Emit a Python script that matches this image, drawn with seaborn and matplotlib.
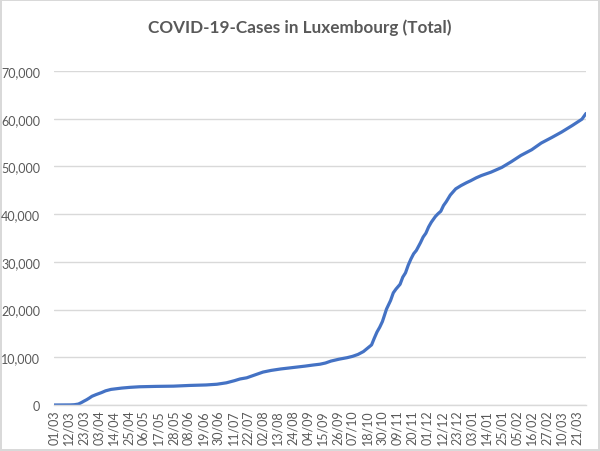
import matplotlib
matplotlib.use("Agg")
import matplotlib.pyplot as plt
import seaborn as sns
import pandas as pd

title = "COVID-19-Cases in Luxembourg (Total)"

# day index since 01/03/2020 (category position) and cumulative cases
day_index = [0, 12, 15, 18, 20, 22, 24, 26, 28, 31, 35, 38, 42, 50, 56, 63, 75, 88,
             100, 112, 120, 127, 133, 137, 142, 148, 154, 160, 167, 173, 179, 185,
             191, 196, 200, 204, 210, 216, 220, 224, 228, 231, 234, 236, 238, 240,
             242, 245, 248, 250, 252, 255, 257, 259, 261, 263, 265, 267, 270, 272,
             274, 276, 278, 281, 283, 285, 287, 289, 292, 296, 300, 304, 307, 311,
             315, 322, 330, 337, 344, 352, 359, 367, 374, 382, 389, 392]
cases = [0, 20, 60, 200, 480, 800, 1100, 1450, 1830, 2180, 2600, 2970, 3270, 3550,
         3700, 3820, 3900, 3950, 4100, 4200, 4350, 4650, 5100, 5450, 5700, 6300,
         6900, 7250, 7550, 7750, 7950, 8150, 8380, 8550, 8800, 9200, 9600, 9920,
         10200, 10600, 11200, 11900, 12600, 14000, 15300, 16300, 17500, 20100,
         21900, 23500, 24300, 25300, 26800, 27700, 29300, 30600, 31700, 32400,
         34000, 35200, 36000, 37300, 38300, 39500, 40100, 40600, 41800, 42600,
         44000, 45300, 46000, 46600, 47000, 47600, 48100, 48800, 49800, 51000,
         52300, 53500, 54900, 56100, 57200, 58600, 59900, 61100]

tick_labels = ["01/03", "12/03", "23/03", "03/04", "14/04", "25/04", "06/05", "17/05",
               "28/05", "08/06", "19/06", "30/06", "11/07", "22/07", "02/08", "13/08",
               "24/08", "04/09", "15/09", "26/09", "07/10", "18/10", "30/10", "09/11",
               "20/11", "01/12", "12/12", "23/12", "03/01", "14/01", "25/01", "05/02",
               "16/02", "27/02", "10/03", "21/03"]
tick_step = 11
n_days = 393

y_ticks = [0, 10000, 20000, 30000, 40000, 50000, 60000, 70000]

df = pd.DataFrame({"day": day_index, "cases": cases})

sns.set_theme(style="white")
plt.rcParams['font.family'] = ['Lato', 'DejaVu Sans']

fig = plt.figure(figsize=(6.0, 4.52), dpi=100)
fig.patch.set_facecolor("white")
fig.patch.set_edgecolor("#D9D9D9")
fig.patch.set_linewidth(1.5)

ax = fig.add_axes([54/600, 1 - 406/452, (586-54)/600, (406-72)/452])
sns.lineplot(data=df, x="day", y="cases", ax=ax, color="#4472C4", linewidth=2.3)

ax.set_xlim(0, n_days - 1)
ax.set_ylim(0, 70000)
ax.set_yticks(y_ticks)
ax.set_yticklabels([f"{v:,}" for v in y_ticks])
ax.set_xticks([i * tick_step for i in range(len(tick_labels))])
ax.set_xticklabels(tick_labels, rotation=90)
ax.set_xlabel("")
ax.set_ylabel("")

ax.yaxis.grid(True, color="#D9D9D9", linewidth=1.0)
ax.xaxis.grid(False)
for s in ["left", "right", "top"]:
    ax.spines[s].set_visible(False)
ax.spines["bottom"].set_color("#D9D9D9")
ax.spines["bottom"].set_linewidth(1.0)
ax.tick_params(axis="both", length=0, labelsize=9, colors="#595959")
ax.tick_params(axis="y", pad=10)
ax.tick_params(axis="x", pad=3)

fig.text(0.5, 1 - 28/452, title, ha="center", va="center", fontsize=12.3,
         fontweight="bold", color="#595959")

fig.savefig("out.png", dpi=100, facecolor=fig.get_facecolor(),
            edgecolor=fig.get_edgecolor())
